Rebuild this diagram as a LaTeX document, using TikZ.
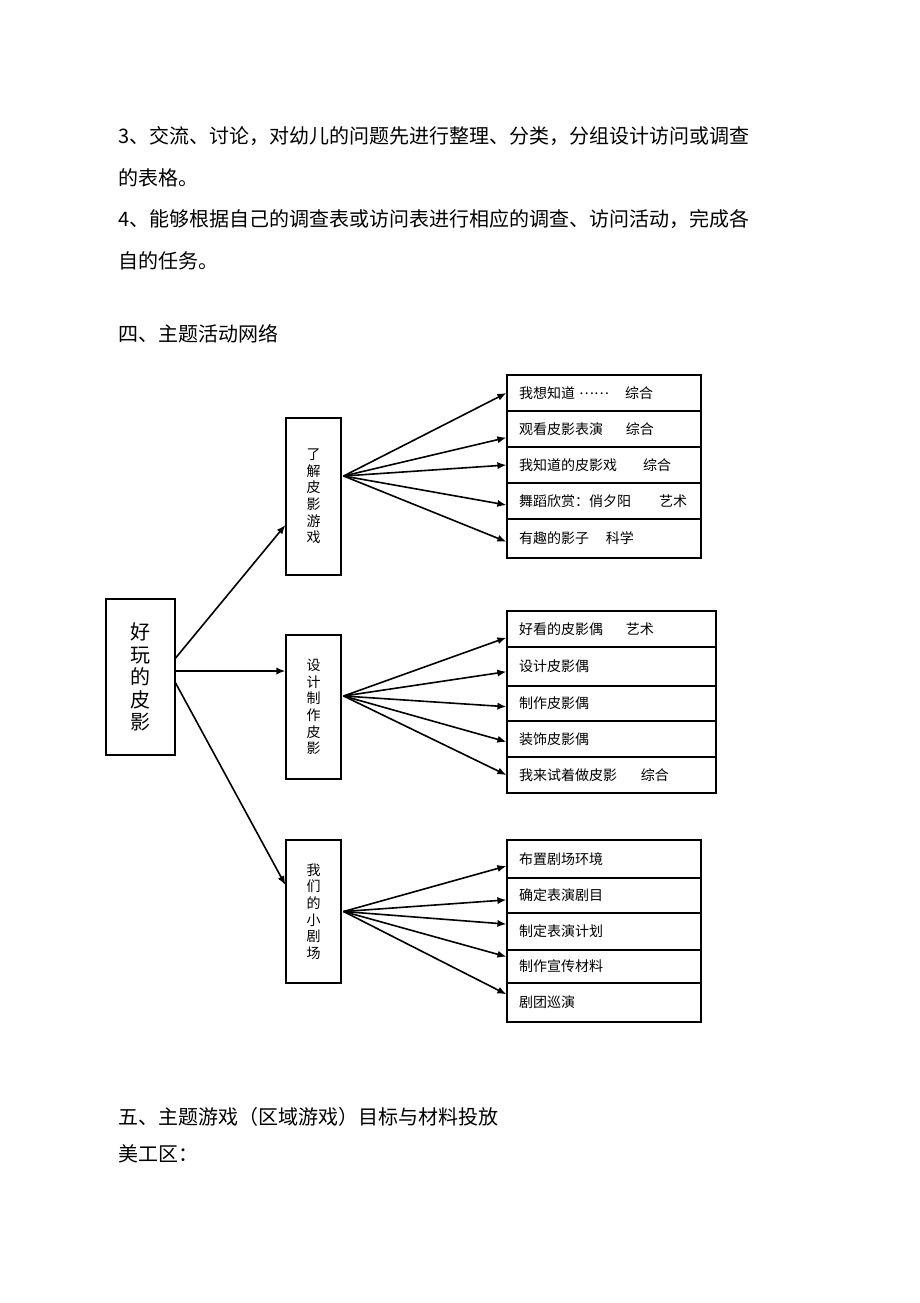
\documentclass[tikz,border=0pt]{standalone}
\usepackage{fontspec}
\setmainfont{Noto Sans CJK SC}
\usetikzlibrary{arrows.meta}

\begin{document}
\begin{tikzpicture}[x=0.5pt,y=-0.5pt,
  line/.style={line width=0.8pt,-{Latex[length=4.5pt,width=3.6pt]}},
  stage/.style={draw,line width=0.6pt,minimum width=27.5pt,inner sep=0pt,align=center,font=\fontsize{7}{8.3}\selectfont},
  item/.style={draw,line width=0.6pt,inner xsep=6pt,inner ysep=0pt,text width=85pt,align=left,font=\fontsize{7}{8}\selectfont},
  body/.style={anchor=west,inner sep=0pt,font=\fontsize{10}{12}\selectfont}]
\useasboundingbox[fill=white] (0,0) rectangle (920,1303);

\node[body] (t1) at (118,136) {3、交流、讨论，对幼儿的问题先进行整理、分类，分组设计访问或调查};
\node[body] (t2) at (118,178) {的表格。};
\node[body] (t3) at (118,219) {4、能够根据自己的调查表或访问表进行相应的调查、访问活动，完成各};
\node[body] (t4) at (118,261) {自的任务。};
\node[body] (t5) at (118,334) {四、主题活动网络};
\node[body] (t6) at (118,1117) {五、主题游戏（区域游戏）目标与材料投放};
\node[body] (t7) at (118,1154) {美工区：};

\node[draw,line width=0.6pt,minimum width=34.5pt,minimum height=78pt,inner sep=0pt,align=center,font=\fontsize{10}{11.25}\selectfont] (root) at (140.5,677) {好\\玩\\的\\皮\\影};

\node[stage,minimum height=78.5pt] (a) at (313.5,496.5) {了\\解\\皮\\影\\游\\戏};
\node[stage,minimum height=72pt] (b) at (313.5,707) {设\\计\\制\\作\\皮\\影};
\node[stage,minimum height=71.5pt] (c) at (313.5,911.5) {我\\们\\的\\小\\剧\\场};

\node[item,minimum height=18pt] (a1) at (604,393) {我想知道\hspace{2pt}\raisebox{0.3em}{\makebox[15pt][s]{…\hfill…}}\hspace{8pt}综合};
\node[item,minimum height=18pt] (a2) at (604,429) {观看皮影表演\hspace{11.5pt}综合};
\node[item,minimum height=18pt] (a3) at (604,465) {我知道的皮影戏\hspace{13pt}综合};
\node[item,minimum height=18pt] (a4) at (604,501) {舞蹈欣赏：俏夕阳\hspace{14pt}艺术};
\node[item,minimum height=19.5pt] (a5) at (604,538.5) {有趣的影子\hspace{8.5pt}科学};

\node[item,text width=92.5pt,minimum height=18pt] (b1) at (611.5,629) {好看的皮影偶\hspace{11.5pt}艺术};
\node[item,text width=92.5pt,minimum height=19.5pt] (b2) at (611.5,666.5) {设计皮影偶};
\node[item,text width=92.5pt,minimum height=17.5pt] (b3) at (611.5,703.5) {制作皮影偶};
\node[item,text width=92.5pt,minimum height=18pt] (b4) at (611.5,739) {装饰皮影偶};
\node[item,text width=92.5pt,minimum height=18pt] (b5) at (611.5,775) {我来试着做皮影\hspace{12pt}综合};

\node[item,minimum height=19pt] (c1) at (604,859) {布置剧场环境};
\node[item,minimum height=17.5pt] (c2) at (604,895.5) {确定表演剧目};
\node[item,minimum height=18.5pt] (c3) at (604,931.5) {制定表演计划};
\node[item,minimum height=16.5pt] (c4) at (604,966.5) {制作宣传材料};
\node[item,minimum height=19.5pt] (c5) at (604,1002.5) {剧团巡演};

\coordinate (r2) at ([yshift=3pt]root.east);
\draw[line] ([yshift=9.5pt]root.east) -- ([yshift=-14.25pt]a.west);
\draw[line] (r2) -- (r2 -| b.west);
\draw[line] ([yshift=-3pt]root.east) -- ([yshift=13.25pt]c.west);

\coordinate (fa) at ([yshift=10.25pt,xshift=1pt]a.east);
\draw[line] (fa) -- (a1.west);
\draw[line] (fa) -- ([yshift=-4.3pt]a2.west);
\draw[line] (fa) -- (a3.west);
\draw[line] (fa) -- ([yshift=-2pt]a4.west);
\draw[line] (fa) -- ([yshift=-1.6pt]a5.west);

\coordinate (fb) at ([yshift=5.5pt,xshift=1pt]b.east);
\draw[line] (fb) -- ([yshift=-4.3pt]b1.west);
\draw[line] (fb) -- ([yshift=-2.6pt]b2.west);
\draw[line] (fb) -- ([yshift=-1.6pt]b3.west);
\draw[line] (fb) -- ([yshift=-1.4pt]b4.west);
\draw[line] (fb) -- (b5.west);

\coordinate (fc) at ([xshift=1pt]c.east);
\draw[line] (fc) -- ([yshift=-3.5pt]c1.west);
\draw[line] (fc) -- ([yshift=-2.2pt]c2.west);
\draw[line] (fc) -- ([yshift=3.7pt]c3.west);
\draw[line] (fc) -- ([yshift=4.9pt]c4.west);
\draw[line] (fc) -- ([yshift=4.1pt]c5.west);
\end{tikzpicture}
\end{document}
